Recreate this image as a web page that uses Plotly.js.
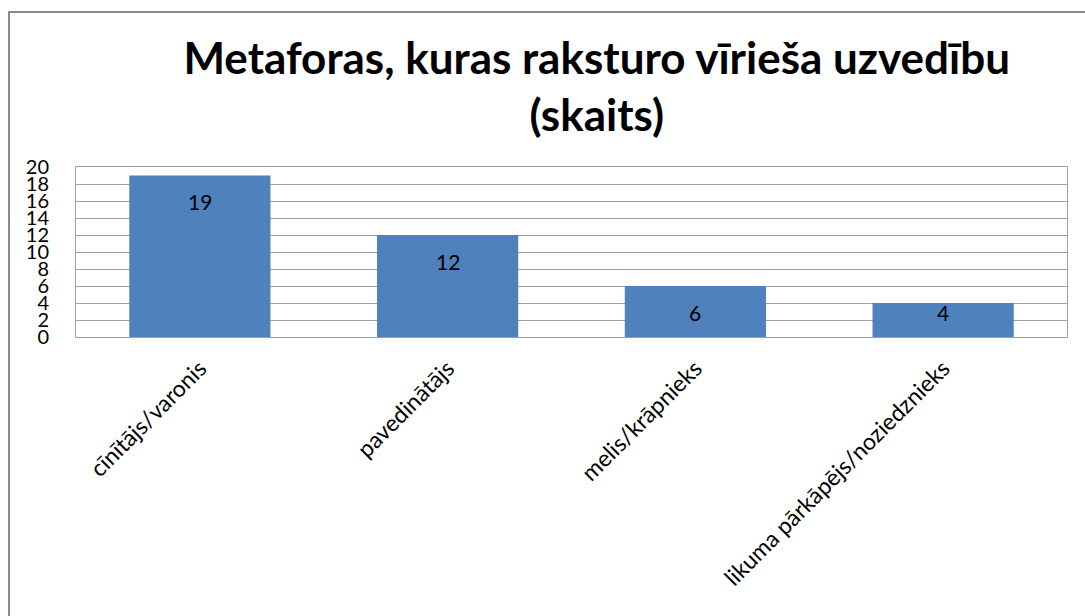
<!DOCTYPE html>
<html>
<head>
<meta charset="utf-8">
<script src="https://cdn.plot.ly/plotly-3.0.1.min.js"></script>
<style>
  html, body { margin: 0; padding: 0; background: #fff; overflow: hidden; }
  #chart { position: absolute; left: 0; top: 0; width: 1085px; height: 616px; }
  #frame { position: absolute; left: 8px; top: 11px; width: 1200px; height: 700px;
           border: 2px solid #8c8c8c; pointer-events: none; box-sizing: border-box; }
</style>
</head>
<body>
<div id="chart"></div>
<div id="frame"></div>
<script>
const categories = ['cīnītājs/varonis', 'pavedinātājs', 'melis/krāpnieks', 'likuma pārkāpējs/noziedznieks'];
const values = [19, 12, 6, 4];
const yTicks = [0, 2, 4, 6, 8, 10, 12, 14, 16, 18, 20];
const titleText = 'Metaforas, kuras raksturo vīrieša uzvedību<br>(skaits)';

const fontFam = 'Lato, "Open Sans", "Liberation Sans", sans-serif';

const trace = {
  type: 'bar',
  x: categories,
  y: values,
  marker: { color: '#4F81BD', line: { width: 0 } },
  width: 0.57,
  hoverinfo: 'none'
};

const annotations = values.map((v, i) => ({
  x: categories[i],
  y: v,
  xref: 'x', yref: 'y',
  text: String(v),
  showarrow: false,
  yanchor: 'middle',
  yshift: v >= 6 ? -26 : -9,
  font: { family: fontFam, size: 21, color: '#000' }
}));

const layout = {
  width: 1085, height: 616,
  margin: { l: 76, r: 18, t: 167, b: 279, pad: 0 },
  paper_bgcolor: '#fff', plot_bgcolor: '#fff',
  showlegend: false,
  title: {
    text: titleText,
    xref: 'container', yref: 'container',
    x: 0.55, y: 1 - 74 / 616, xanchor: 'center', yanchor: 'middle',
    font: { family: fontFam, size: 44, color: '#000', weight: 'bold' }
  },
  xaxis: {
    type: 'category',
    tickangle: -45,
    tickfont: { family: fontFam, size: 23, color: '#000' },
    showline: true, linecolor: '#a0a0a0', linewidth: 1, mirror: true,
    ticks: '', showgrid: false, zeroline: false,
    ticklabelstandoff: 8
  },
  yaxis: {
    range: [0, 20],
    tickvals: yTicks,
    ticktext: yTicks.map(String),
    tickfont: { family: fontFam, size: 20, color: '#000' },
    showline: true, linecolor: '#a0a0a0', linewidth: 1, mirror: true,
    gridcolor: '#a0a0a0', gridwidth: 1,
    zeroline: false, ticks: '',
    ticklabelstandoff: 22
  },
  annotations: annotations,
  bargap: 0.43
};

Plotly.newPlot('chart', [trace], layout, { displayModeBar: false, staticPlot: true });
</script>
</body>
</html>
